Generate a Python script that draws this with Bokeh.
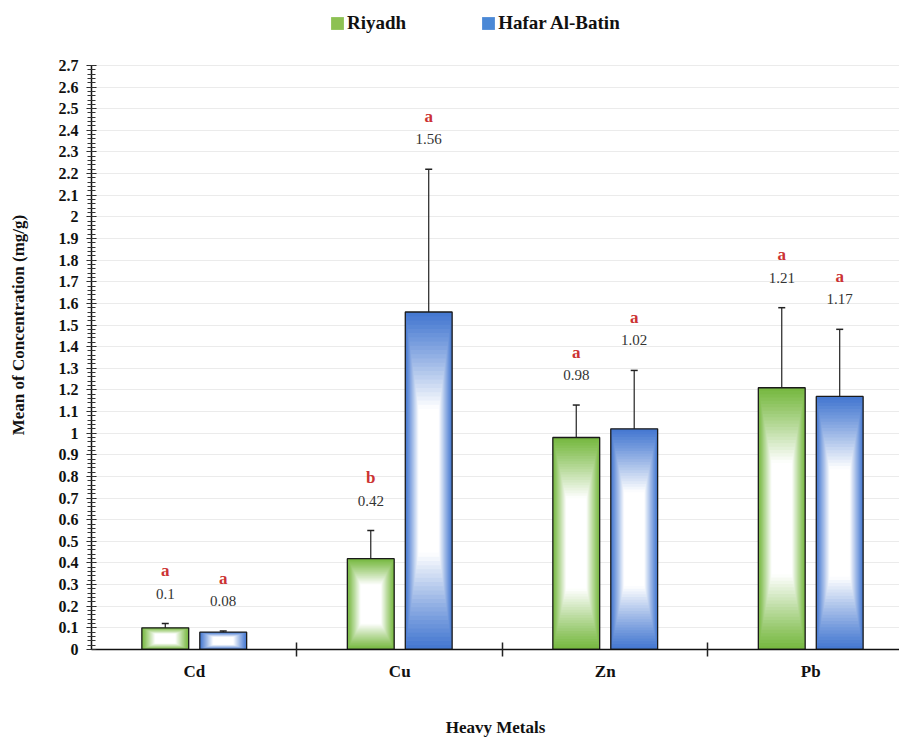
import numpy as np
from bokeh.plotting import figure
from bokeh.models import (ColumnDataSource, FixedTicker, CustomJSTickFormatter, Whisker,
                          TeeHead, Legend, LegendItem, Range1d)
from bokeh.embed import file_html
from bokeh.resources import INLINE
from bokeh.core.properties import value

# ---------------- data ----------------
metals = ["Cd", "Cu", "Zn", "Pb"]
series_names = ["Riyadh", "Hafar Al-Batin"]
riyadh_mean = [0.10, 0.42, 0.98, 1.21]
riyadh_err = [0.02, 0.13, 0.15, 0.37]
riyadh_letters = ["a", "b", "a", "a"]
hafar_mean = [0.08, 1.56, 1.02, 1.17]
hafar_err = [0.005, 0.66, 0.27, 0.31]
hafar_letters = ["a", "a", "a", "a"]
y_tick_values = [round(i * 0.1, 1) for i in range(28)]
y_axis_max = 2.7

# ---------------- style ----------------
FONT = "Liberation Serif"
colors = ["#78b942", "#4679d1"]
legend_colors = ["#8dc153", "#4a88d6"]
offsets = [-0.141, 0.141]
bar_w = 0.228

W, H = 899, 739
p = figure(width=W, height=H, x_range=Range1d(0, 3.932), y_range=Range1d(0, 3.0),
           output_backend="svg", toolbar_location=None,
           min_border_left=91, min_border_right=0, min_border_top=0, min_border_bottom=89)
p.outline_line_color = None
p.background_fill_color = "white"
p.border_fill_color = "white"
p.xgrid.visible = False
p.ygrid.grid_line_color = "#ebebeb"
p.ygrid.grid_line_width = 1

# y axis
p.yaxis.bounds = (0, y_axis_max)
p.yaxis.ticker = FixedTicker(ticks=y_tick_values,
                             minor_ticks=[round(i * 0.02, 2) for i in range(136)])
p.yaxis.formatter = CustomJSTickFormatter(code="return String(Math.round(tick*10)/10);")
p.yaxis.axis_label = "Mean of Concentration (mg/g)"
p.yaxis.axis_label_text_font = FONT
p.yaxis.axis_label_text_font_style = "bold"
p.yaxis.axis_label_text_font_size = "17px"
p.yaxis.axis_label_text_color = "#111111"
p.yaxis.axis_label_standoff = 28
p.yaxis.major_label_text_font = FONT
p.yaxis.major_label_text_font_style = "bold"
p.yaxis.major_label_text_font_size = "16px"
p.yaxis.major_label_text_color = "#111111"
p.yaxis.major_label_standoff = 8
p.yaxis.major_tick_in = 5
p.yaxis.major_tick_out = 5
p.yaxis.minor_tick_in = 4
p.yaxis.minor_tick_out = 4
p.yaxis.major_tick_line_color = "#222222"
p.yaxis.minor_tick_line_color = "#333333"
p.yaxis.axis_line_color = "#111111"
p.yaxis.axis_line_width = 1.5

# x axis
centers = [i + 0.5 for i in range(len(metals))]
p.xaxis.ticker = FixedTicker(ticks=centers, minor_ticks=[i for i in range(1, len(metals))])
p.xaxis.major_label_overrides = {c: m for c, m in zip(centers, metals)}
p.xaxis.major_tick_in = 0
p.xaxis.major_tick_out = 0
p.xaxis.minor_tick_in = 7
p.xaxis.minor_tick_out = 7
p.xaxis.minor_tick_line_color = "#222222"
p.xaxis.minor_tick_line_width = 1.5
p.xaxis.axis_line_color = "#111111"
p.xaxis.axis_line_width = 1.5
p.xaxis.major_label_text_font = FONT
p.xaxis.major_label_text_font_style = "bold"
p.xaxis.major_label_text_font_size = "17px"
p.xaxis.major_label_text_color = "#111111"
p.xaxis.major_label_standoff = 5
p.xaxis.axis_label = "Heavy Metals"
p.xaxis.axis_label_text_font = FONT
p.xaxis.axis_label_text_font_style = "bold"
p.xaxis.axis_label_text_font_size = "17px"
p.xaxis.axis_label_text_color = "#111111"
p.xaxis.axis_label_standoff = 34


def hex_to_rgb(h):
    h = h.lstrip("#")
    return np.array([int(h[i:i + 2], 16) for i in (0, 2, 4)], dtype=float)


def rgb_to_hex(c):
    return "#%02x%02x%02x" % tuple(int(round(v)) for v in c)


N = 40
all_means = [riyadh_mean, hafar_mean]
all_errs = [riyadh_err, hafar_err]
all_letters = [riyadh_letters, hafar_letters]

for si in range(2):
    means = np.array(all_means[si])
    errs = np.array(all_errs[si])
    xs = np.arange(len(metals)) + 0.5 + offsets[si]
    base = hex_to_rgb(colors[si])
    white = np.array([255.0, 255.0, 255.0])
    L, R, B, T, C = [], [], [], [], []
    for k in range(N):
        s = 1 - k / N
        t = np.clip((1 - s) / 0.56, 0, 1) ** 1.1
        col = rgb_to_hex(base * (1 - t) + white * t)
        for x, m in zip(xs, means):
            cy = m / 2
            L.append(x - s * bar_w / 2)
            R.append(x + s * bar_w / 2)
            B.append(cy - s * m / 2)
            T.append(cy + s * m / 2)
            C.append(col)
    grad_src = ColumnDataSource(dict(left=L, right=R, bottom=B, top=T, color=C))
    p.quad(left="left", right="right", bottom="bottom", top="top", fill_color="color",
           line_color=None, source=grad_src)

    out_src = ColumnDataSource(dict(left=xs - bar_w / 2, right=xs + bar_w / 2,
                                    bottom=np.zeros(len(xs)), top=means))
    p.quad(left="left", right="right", bottom="bottom", top="top", fill_color=None,
           line_color="#1a1a1a", line_width=1.3, source=out_src)

    err_src = ColumnDataSource(dict(x=xs, upper=means + errs, lower=means - errs,
                                    top=means + errs,
                                    val=[f"{m:g}" for m in means],
                                    let=all_letters[si]))
    wh = Whisker(source=err_src, base="x", upper="upper", lower="lower",
                 line_color="#222222", line_width=1.2,
                 upper_head=TeeHead(size=7, line_color="#222222", line_width=1.5),
                 lower_head=TeeHead(size=7, line_color="#222222", line_width=1.5))
    p.add_layout(wh)

    p.text(x="x", y="top", text="val", source=err_src, y_offset=-30,
           text_align="center", text_baseline="middle",
           text_font=value(FONT), text_font_size="15px", text_color="#333333")
    p.text(x="x", y="top", text="let", source=err_src, y_offset=-53,
           text_align="center", text_baseline="middle",
           text_font=value(FONT), text_font_size="17px", text_font_style="bold",
           text_color="#cc3333")

# legend swatches: legend-only area glyphs (one NaN row so nothing is drawn in the plot)
sw_r = []
for si in range(2):
    r = p.quad(left=[np.nan], right=[np.nan], bottom=[np.nan], top=[np.nan],
               fill_color=legend_colors[si], line_color=None)
    sw_r.append(r)
legend_items = [LegendItem(label=series_names[si], renderers=[sw_r[si]]) for si in range(2)]

legend = Legend(items=legend_items, orientation="horizontal", location=(238, 615))
legend.label_text_font = FONT
legend.label_text_font_style = "bold"
legend.label_text_font_size = "19px"
legend.label_text_color = "#111111"
legend.glyph_width = 16
legend.glyph_height = 16
legend.label_standoff = 2
legend.spacing = 74
legend.padding = 0
legend.margin = 0
legend.border_line_color = None
legend.background_fill_alpha = 0
p.add_layout(legend, "center")

open("out.html", "w").write(file_html(p, INLINE))
